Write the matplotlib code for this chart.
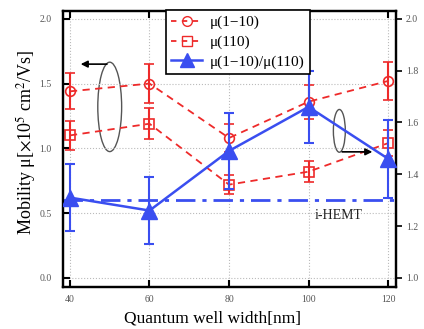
import matplotlib
matplotlib.use("Agg")
import matplotlib.pyplot as plt
from matplotlib.patches import Ellipse
from matplotlib.lines import Line2D

plt.rcParams['font.family'] = ['Liberation Serif', 'DejaVu Serif']
plt.rcParams['mathtext.fontset'] = 'stix'

widths = [40, 60, 80, 100, 120]
mu_1m10 = [1.44, 1.50, 1.08, 1.36, 1.52]
mu_1m10_err = [0.14, 0.15, 0.11, 0.13, 0.15]
mu_110 = [1.10, 1.19, 0.72, 0.82, 1.04]
mu_110_err = [0.11, 0.12, 0.075, 0.08, 0.10]
ratio = [1.31, 1.26, 1.49, 1.66, 1.46]
ratio_err = [0.13, 0.13, 0.145, 0.14, 0.15]
ihemt = 1.30

red = '#ee2a2a'
blue = '#3a4ef0'

fig = plt.figure(figsize=(4.24, 3.29), dpi=100)
ax = fig.add_axes([63/424, 1-287/329, (396-63)/424, (287-11)/329])
ax2 = ax.twinx()

ax.errorbar(widths, mu_1m10, yerr=mu_1m10_err, color=red, ls='--', lw=1.3,
            marker='o', mfc='none', mec=red, ms=7, mew=1.2, capsize=3.5,
            elinewidth=1.5, capthick=1.5, dashes=(4, 3))
ax.errorbar(widths, mu_110, yerr=mu_110_err, color=red, ls='--', lw=1.3,
            marker='s', mfc='none', mec=red, ms=7, mew=1.2, capsize=3.5,
            elinewidth=1.5, capthick=1.5, dashes=(4, 3))

ax2.errorbar(widths, ratio, yerr=ratio_err, color=blue, ls='-', lw=1.8,
             marker='^', mfc=blue, mec=blue, ms=11, capsize=3.5,
             elinewidth=1.5, capthick=1.5, zorder=3)
ax2.axhline(ihemt, color=blue, ls=(0, (7, 2.5, 1.5, 2.5)), lw=2, zorder=2)
ax2.text(101.5, 1.24, 'i-HEMT', fontsize=10, ha='left', va='center', color='#222222')

ax.set_xlim(38.25, 122)
ax.set_ylim(-0.07, 2.06)
ax2.set_ylim(1 + (-0.07) / 2, 1 + 2.06 / 2)

ax.set_xticks(widths)
ax.set_yticks([0.0, 0.5, 1.0, 1.5, 2.0])
ax2.set_yticks([1.0, 1.2, 1.4, 1.6, 1.8, 2.0])
ax.yaxis.set_major_formatter(matplotlib.ticker.FormatStrFormatter('%.1f'))
ax2.yaxis.set_major_formatter(matplotlib.ticker.FormatStrFormatter('%.1f'))

ax.grid(True, color='#bbbbbb', ls=':', lw=0.8)
ax.tick_params(axis='both', direction='in', length=5, width=1.5, labelsize=7,
               labelcolor='#555555', top=True, pad=6)
ax.tick_params(axis='y', left=True, right=False, pad=8)
ax2.tick_params(axis='y', direction='out', length=4, width=1.2, labelsize=7,
                labelcolor='#555555', pad=3)
for a in (ax, ax2):
    for s in a.spines.values():
        s.set_linewidth(1.6)

ax.set_xlabel('Quantum well width[nm]', fontsize=12.5, labelpad=4)
ax.xaxis.set_label_coords((213-63)/333, -0.085)
ax.set_ylabel(r'Mobility μ[$\times$10$^5$ cm$^2$/Vs]', fontsize=13, labelpad=4)
ax.yaxis.set_label_coords(-0.075, 0.525)

# ellipses and arrows
e1 = Ellipse((50, 1.32), 6, 0.69, fill=False, ec='#555555', lw=1.0)
ax.add_patch(e1)
ax.annotate('', xy=(42, 1.65), xytext=(50, 1.65),
            arrowprops=dict(arrowstyle='-|>', color='black', lw=1.2, mutation_scale=10))
e2 = Ellipse((107.75, 1.135), 3, 0.33, fill=False, ec='#555555', lw=1.0)
ax.add_patch(e2)
ax.annotate('', xy=(116.75, 0.973), xytext=(107.75, 0.973),
            arrowprops=dict(arrowstyle='-|>', color='black', lw=1.2, mutation_scale=10))

handles = [
    Line2D([], [], color=red, ls='--', marker='o', mfc='none', mec=red, ms=7, lw=1.3, dashes=(3, 3)),
    Line2D([], [], color=red, ls='--', marker='s', mfc='none', mec=red, ms=7, lw=1.3, dashes=(3, 3)),
    Line2D([], [], color=blue, ls='-', marker='^', mfc=blue, mec=blue, ms=10, lw=1.8),
]
labels = ['μ(1−10)', 'μ(110)', 'μ(1−10)/μ(110)']
leg = ax2.legend(handles, labels, loc='upper left', bbox_to_anchor=((166-63)/333, 1.003),
                 fontsize=11, frameon=True, fancybox=False, edgecolor='black',
                 framealpha=1, borderpad=0.35, labelspacing=0.38, handlelength=2.0,
                 handletextpad=0.5, borderaxespad=0)
leg.get_frame().set_linewidth(1.2)

fig.savefig('out.png', dpi=100)
